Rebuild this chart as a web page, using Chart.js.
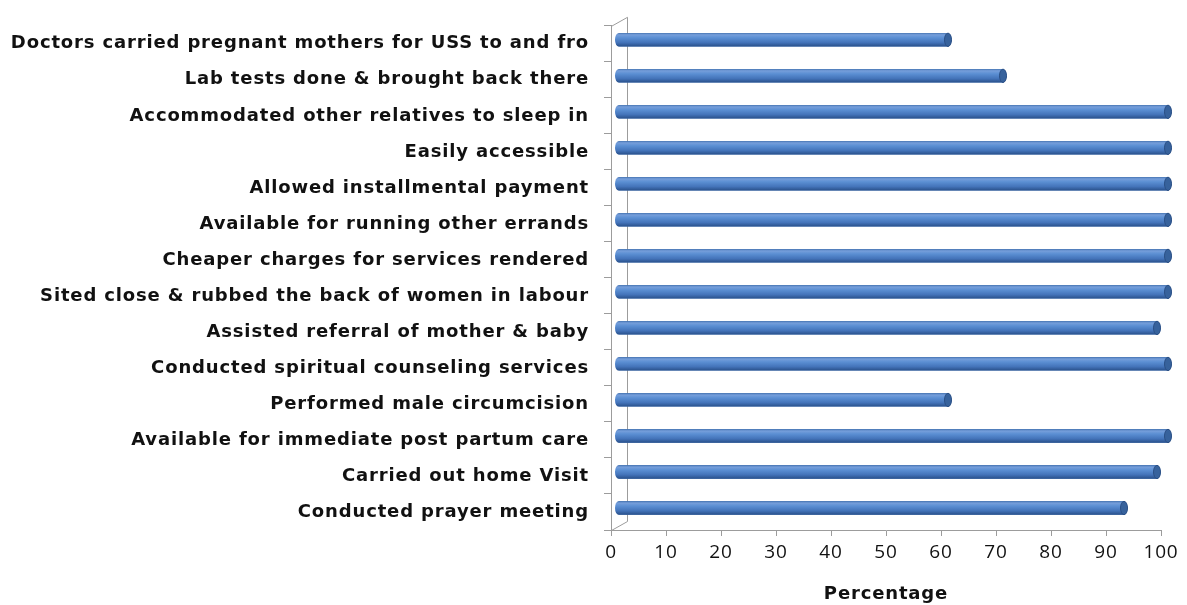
<!DOCTYPE html>
<html>
<head>
<meta charset="utf-8">
<script src="https://cdn.jsdelivr.net/npm/chart.js@4.4.0/dist/chart.umd.min.js"></script>
<style>
  html, body { margin: 0; padding: 0; background: #fff; }
  #wrap { width: 1187px; height: 605px; }
</style>
</head>
<body>
<div id="wrap"><canvas id="chart" width="1187" height="605"></canvas></div>
<script>
// categories, top to bottom as in the picture
const categories = [
    'Doctors carried pregnant mothers for USS to and fro',
    'Lab tests done & brought back there',
    'Accommodated other relatives to sleep in',
    'Easily accessible',
    'Allowed installmental payment',
    'Available for running other errands',
    'Cheaper charges for services rendered',
    'Sited close & rubbed the back of women in labour',
    'Assisted referral of mother & baby',
    'Conducted spiritual counseling services',
    'Performed male circumcision',
    'Available for immediate post partum care',
    'Carried out home Visit',
    'Conducted prayer meeting'
];
const percentages = [60, 70, 100, 100, 100, 100, 100, 100, 98, 100, 60, 100, 98, 92];
const xTickLabels = ['0', '10', '20', '30', '40', '50', '60', '70', '80', '90', '100'];
const axisTitle = 'Percentage';

const axisGrey = '#9c9c9c';
const depthX = 7, depthY = -4;   // fake 3D offset of the bars

// the original text is a bit stretched; widen it with letter spacing
const spacingPlugin = {
    id: 'spacing',
    beforeDraw(chart) { chart.ctx.letterSpacing = '0.85px'; },
    beforeDatasetsDraw(chart) { chart.ctx.letterSpacing = '0px'; }
};

// back wall lines of the 3D frame
const wallPlugin = {
    id: 'wall',
    beforeDatasetsDraw(chart) {
        const { ctx, chartArea: a } = chart;
        ctx.save();
        ctx.strokeStyle = axisGrey;
        ctx.lineWidth = 1;
        ctx.beginPath();
        ctx.moveTo(a.left + 0.5, a.top + 0.5);
        ctx.lineTo(a.left + 16.5, a.top - 8.5);
        ctx.lineTo(a.left + 16.5, a.bottom - 8.5);
        ctx.lineTo(a.left + 0.5, a.bottom + 0.5);
        ctx.stroke();
        ctx.restore();
        // shift the bars a bit (depth)
        ctx.save();
        ctx.translate(depthX, depthY);
    },
    afterDatasetsDraw(chart) {
        const ctx = chart.ctx;
        const meta = chart.getDatasetMeta(0);
        meta.data.forEach(el => {
            const { x, y, base, height } = el.getProps(['x', 'y', 'base', 'height'], true);
            const h = height, top = y - h / 2, rx = 3.5;
            const g = ctx.createLinearGradient(0, top, 0, top + h);
            g.addColorStop(0, '#3c6cad');
            g.addColorStop(0.12, '#779fdb');
            g.addColorStop(0.35, '#5b8fd3');
            g.addColorStop(0.7, '#4474ba');
            g.addColorStop(1, '#29508a');
            ctx.fillStyle = g;
            ctx.beginPath();
            ctx.ellipse(base, y, rx, h / 2, 0, Math.PI / 2, Math.PI * 1.5);
            ctx.lineTo(x, top);
            ctx.ellipse(x, y, rx, h / 2, 0, -Math.PI / 2, Math.PI / 2);
            ctx.closePath();
            ctx.fill();
            // end cap
            ctx.beginPath();
            ctx.ellipse(x, y, rx, h / 2, 0, 0, Math.PI * 2);
            ctx.fillStyle = '#37629c';
            ctx.fill();
            ctx.strokeStyle = '#2a4f85';
            ctx.lineWidth = 1;
            ctx.stroke();
        });
        ctx.restore();
    }
};

new Chart(document.getElementById('chart'), {
    type: 'bar',
    data: {
        labels: categories,
        datasets: [{
            data: percentages,
            backgroundColor: '#4a7fc4',
            borderWidth: 0,
            categoryPercentage: 1,
            barPercentage: 0.37,
            clip: false
        }]
    },
    options: {
        indexAxis: 'y',
        responsive: false,
        devicePixelRatio: 1,
        animation: false,
        layout: { padding: { top: 24, right: 26, left: 0, bottom: 0 } },
        plugins: { legend: { display: false }, tooltip: { enabled: false } },
        scales: {
            y: {
                grid: { display: true, drawOnChartArea: false, drawTicks: true, tickLength: 7, color: axisGrey, offset: true },
                border: { display: true, color: axisGrey },
                ticks: {
                    padding: 15,
                    color: '#111',
                    font: { family: 'DejaVu Sans', weight: 'bold', size: 18 }
                },
                afterFit(scale) { scale.width = 611; }
            },
            x: {
                min: 0,
                max: 100,
                grid: { display: true, drawOnChartArea: false, drawTicks: true, tickLength: 6, color: axisGrey },
                border: { display: true, color: axisGrey },
                ticks: {
                    stepSize: 10,
                    padding: 5,
                    color: '#111',
                    font: { family: 'Open Sans', size: 19 },
                    callback: (v, i) => xTickLabels[i]
                },
                title: {
                    display: true,
                    text: axisTitle,
                    color: '#111',
                    font: { family: 'DejaVu Sans', weight: 'bold', size: 18 },
                    padding: { top: 0, bottom: 0 }
                },
                afterFit(scale) { scale.height = 75; }
            }
        }
    },
    plugins: [spacingPlugin, wallPlugin]
});
</script>
</body>
</html>
